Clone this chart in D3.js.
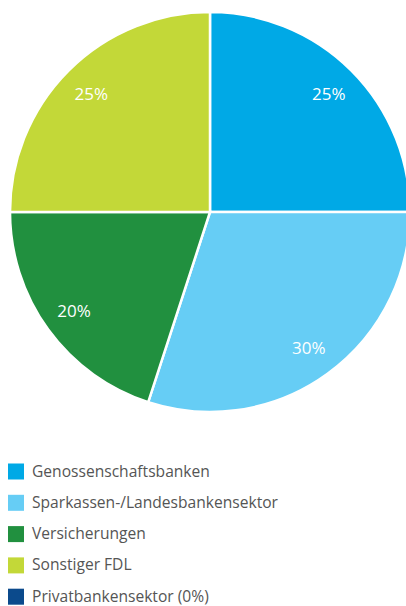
<!DOCTYPE html>
<html>
<head>
<meta charset="utf-8">
<script src="https://cdn.jsdelivr.net/npm/d3@7/dist/d3.min.js"></script>
<style>
  html, body { margin: 0; padding: 0; background: #fff; }
  svg { display: block; font-family: "Open Sans", "Noto Sans", sans-serif; }
</style>
</head>
<body>
<svg id="chart" width="406" height="606"></svg>
<script>
// Shares by sector (percent)
const categories = ["Genossenschaftsbanken", "Sparkassen-/Landesbankensektor", "Versicherungen", "Sonstiger FDL", "Privatbankensektor"];
const values = [25, 30, 20, 25, 0];
const legendLabels = ["Genossenschaftsbanken", "Sparkassen-/Landesbankensektor", "Versicherungen", "Sonstiger FDL", "Privatbankensektor (0%)"];
const colors = ["#00a9e6", "#66cdf5", "#21903f", "#c3d838", "#0b4a8c"];

const svg = d3.select("#chart");
const cx = 210, cy = 212, R = 200;

const color = d3.scaleOrdinal().domain(categories).range(colors);
const data = categories.map((c, i) => ({ name: c, value: values[i] }));

const pie = d3.pie().value(d => d.value).sort(null);
const arc = d3.arc().innerRadius(0).outerRadius(R);
const labelArc = d3.arc().innerRadius(168).outerRadius(168);

const g = svg.append("g").attr("transform", `translate(${cx},${cy})`);
const arcs = pie(data).filter(d => d.data.value > 0);

g.selectAll("path.slice")
  .data(arcs)
  .join("path")
  .attr("class", "slice")
  .attr("d", arc)
  .attr("fill", d => color(d.data.name))
  .attr("stroke", "#fff")
  .attr("stroke-width", 2.5);

g.selectAll("text.pct")
  .data(arcs)
  .join("text")
  .attr("class", "pct")
  .attr("transform", d => `translate(${labelArc.centroid(d)})`)
  .attr("text-anchor", "middle")
  .attr("dominant-baseline", "central")
  .attr("fill", "#fff")
  .attr("font-size", 17)
  .text(d => d.data.value + "%");

// Legend
const legend = svg.append("g").attr("transform", "translate(8,463.5)");
const rows = legend.selectAll("g.row")
  .data(categories)
  .join("g")
  .attr("class", "row")
  .attr("transform", (d, i) => `translate(0,${i * 31.3})`);

rows.append("rect")
  .attr("width", 16).attr("height", 16)
  .attr("fill", d => color(d));

rows.append("text")
  .attr("x", 24).attr("y", 7)
  .attr("dominant-baseline", "central")
  .attr("fill", "#555")
  .attr("font-size", 15.6)
  .text((d, i) => legendLabels[i]);
</script>
</body>
</html>
